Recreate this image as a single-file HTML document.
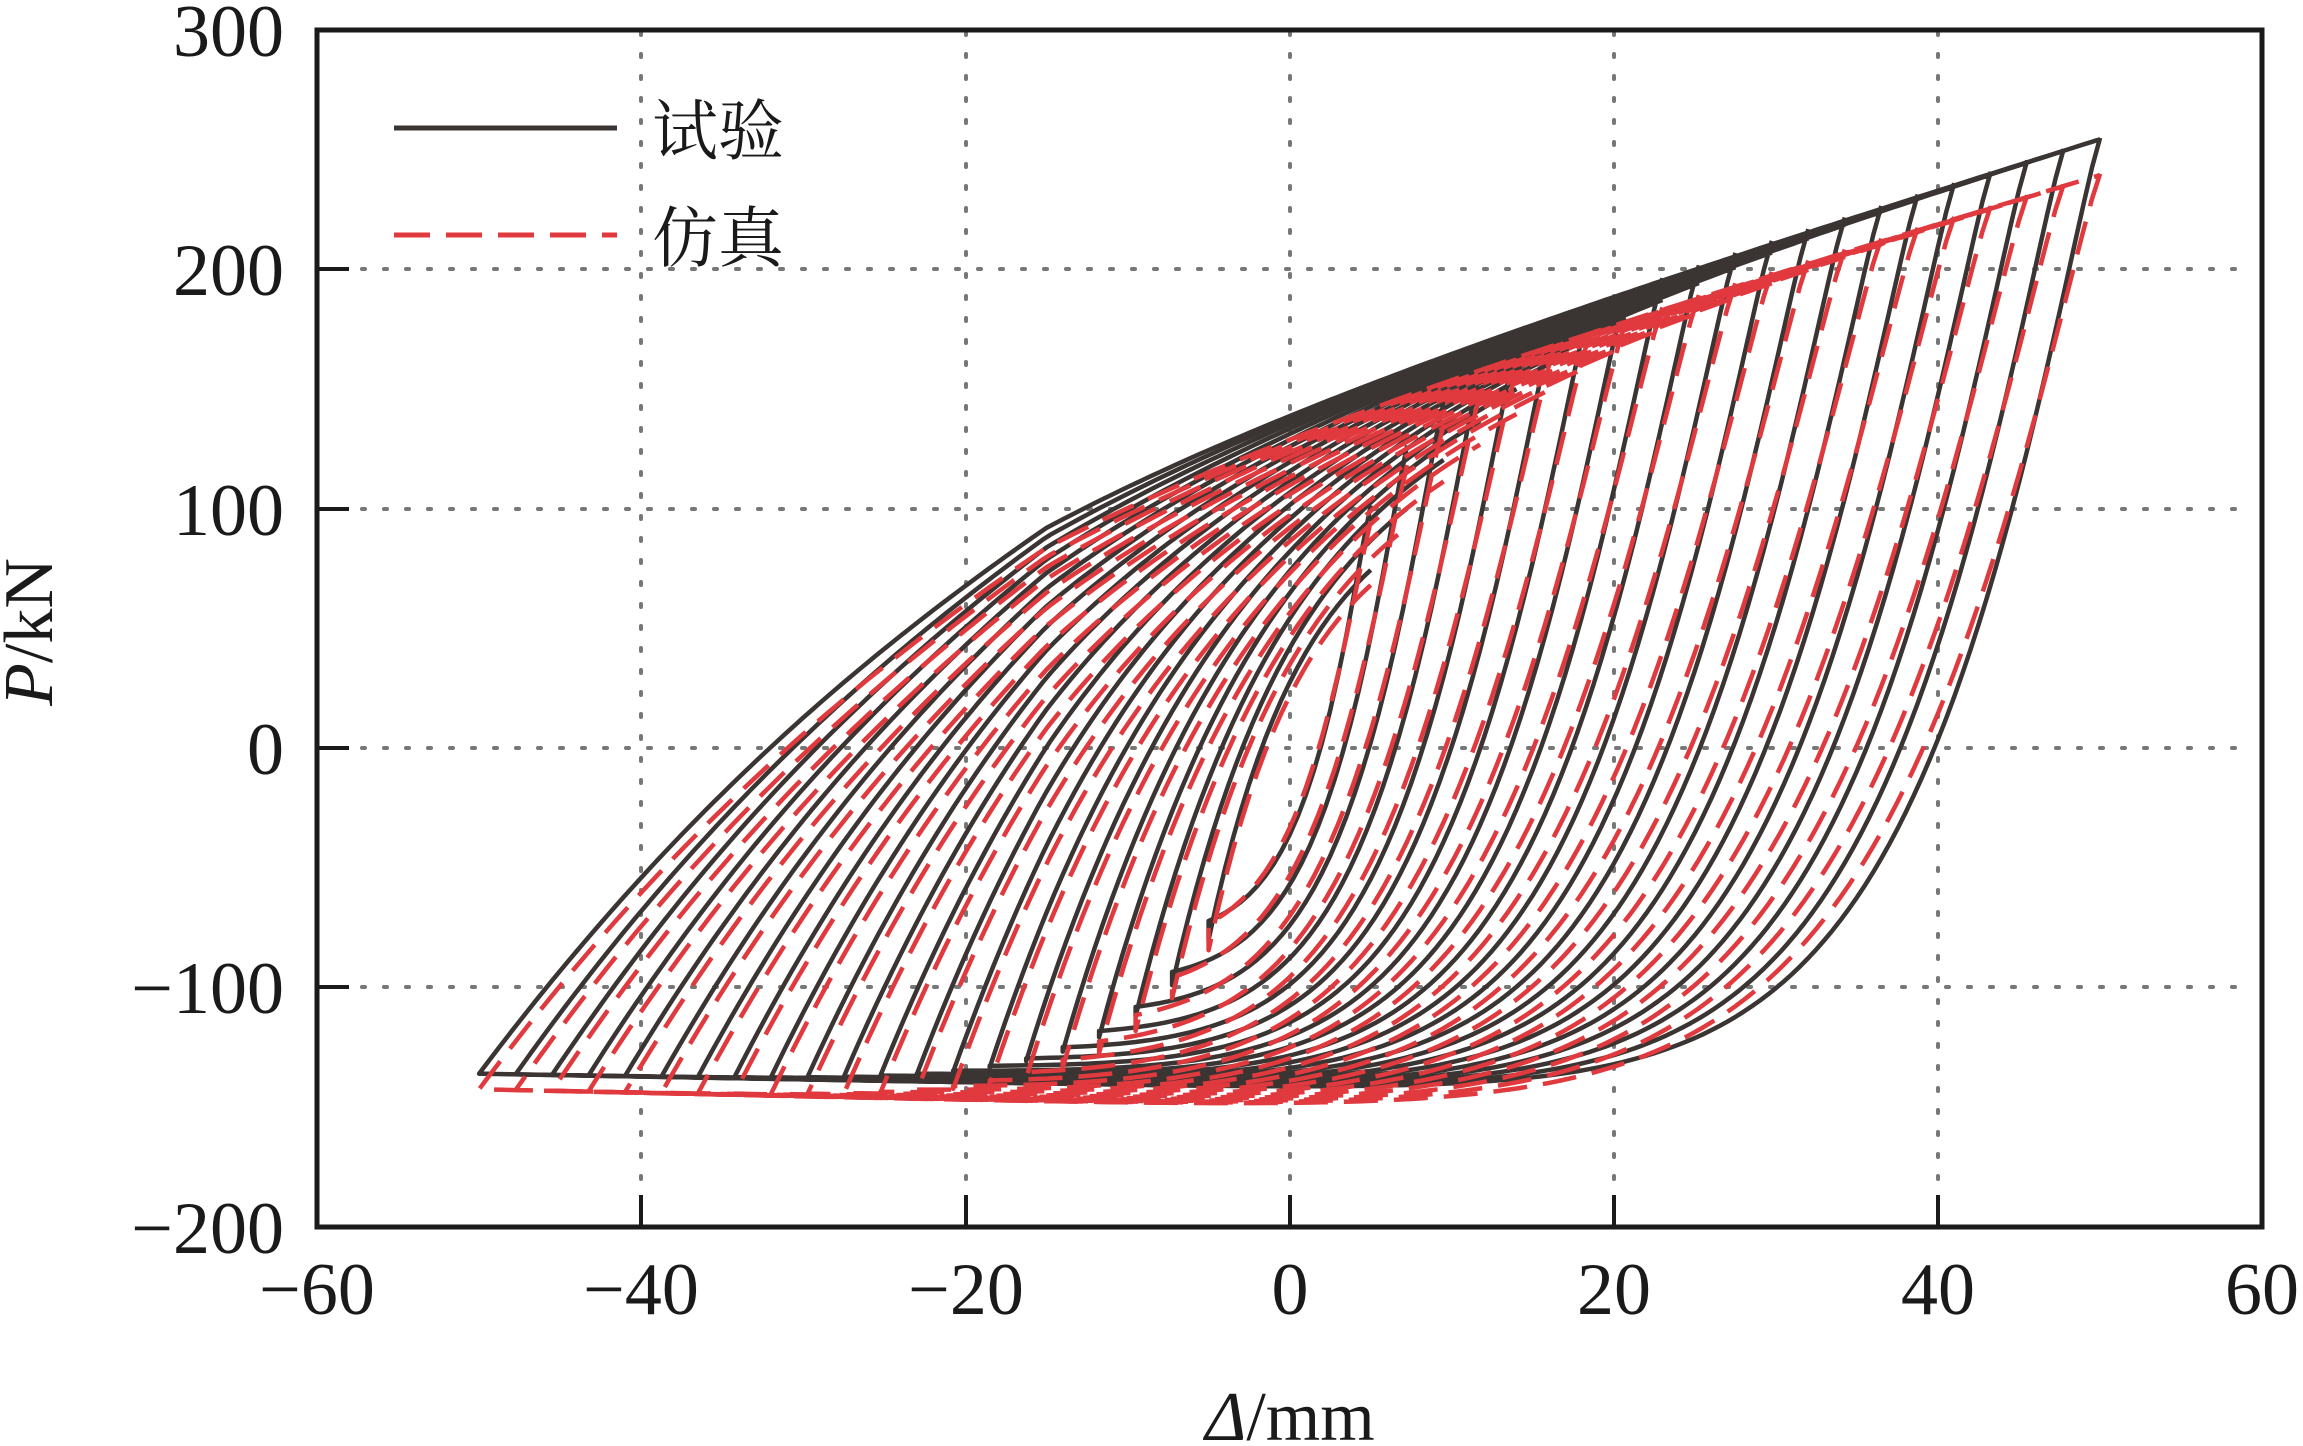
<!DOCTYPE html>
<html><head><meta charset="utf-8"><style>
html,body{margin:0;padding:0;background:#fff}
svg{display:block}
text{font-family:"Liberation Serif","Noto Serif CJK SC",serif;fill:#1a1a1a}
</style></head><body>
<svg id="s" width="2303" height="1446" viewBox="0 0 2303 1446" xmlns="http://www.w3.org/2000/svg">
<g stroke="#777" stroke-width="4" stroke-dasharray="3,19" stroke-linecap="round">
<line x1="641" y1="32" x2="641" y2="1200"/><line x1="966" y1="32" x2="966" y2="1200"/><line x1="1290" y1="32" x2="1290" y2="1200"/><line x1="1614" y1="32" x2="1614" y2="1200"/><line x1="1938" y1="32" x2="1938" y2="1200"/>
<line x1="340" y1="269" x2="2250" y2="269"/><line x1="340" y1="509" x2="2250" y2="509"/><line x1="340" y1="748" x2="2250" y2="748"/><line x1="340" y1="987" x2="2250" y2="987"/>
</g>
<g id="curves" fill="none" stroke-linejoin="round"></g>
<rect x="317" y="30" width="1945" height="1197" fill="none" stroke="#1a1a1a" stroke-width="5"/>
<g stroke="#1a1a1a" stroke-width="4">
<line x1="641" y1="1227" x2="641" y2="1195"/><line x1="966" y1="1227" x2="966" y2="1195"/><line x1="1290" y1="1227" x2="1290" y2="1195"/><line x1="1614" y1="1227" x2="1614" y2="1195"/><line x1="1938" y1="1227" x2="1938" y2="1195"/>
<line x1="317" y1="269" x2="349" y2="269"/><line x1="317" y1="509" x2="349" y2="509"/><line x1="317" y1="748" x2="349" y2="748"/><line x1="317" y1="987" x2="349" y2="987"/>
</g>
<g font-size="74" text-anchor="end">
<text x="284" y="56">300</text><text x="284" y="295">200</text><text x="284" y="535">100</text><text x="284" y="774">0</text><text x="284" y="1013">−100</text><text x="284" y="1253">−200</text>
</g>
<g font-size="74" text-anchor="middle">
<text x="317" y="1314">−60</text><text x="641" y="1314">−40</text><text x="966" y="1314">−20</text><text x="1290" y="1314">0</text><text x="1614" y="1314">20</text><text x="1938" y="1314">40</text><text x="2262" y="1314">60</text>
</g>
<text x="1290" y="1440" font-size="70" text-anchor="middle"><tspan font-style="italic">Δ</tspan>/mm</text>
<text transform="translate(52,632) rotate(-90)" font-size="70" text-anchor="middle"><tspan font-style="italic">P</tspan>/kN</text>
<line x1="394" y1="128" x2="617" y2="128" stroke="#3a3433" stroke-width="5"/>
<line x1="394" y1="235" x2="617" y2="235" stroke="#e0393e" stroke-width="5" stroke-dasharray="36,16"/>
<text x="652" y="154" font-size="66">试验</text>
<text x="652" y="261" font-size="66">仿真</text>
</svg>
<script>
(function(){
function X(x){return 317+(x+60)*16.21;}
function Y(p){return 30+(300-p)*2.394;}
var g=document.getElementById('curves');
function loops(red){
  var out='';
  for(var i=0;i<21;i++){
    var A=5+i*2.25;
    var s=1-Math.exp(-A/6);
    var U=function(x){return red?(140+2.0*x):(150+2.1*x);};
    var L=function(x){return red?(-150-0.15*x):(-142-0.12*x);};
    var Pmax=U(A)*(1-Math.exp(-A/5));
    var Pneg=L(-A)*s;
    var c=15*(1-Math.exp(-A/15))+1, c2=(red?11:9.5)*(1-Math.exp(-A/15))+1;
    var pts=[];
    for(var x=A;x>=-A;x-=0.5){
      var Lx=L(x)*s;
      var p=Lx+(Pmax-Lx)*Math.exp(-Math.pow((A-x)/c2,1.15));
      pts.push(X(x).toFixed(1)+','+Y(p).toFixed(1));
    }
    for(var x=-A;x<=A;x+=0.5){
      var Ux=U(x)*(1-Math.exp(-A/5));
      if(x<-15){Ux=Ux-(-15-x)*1.2*s;}
      var p=Ux-(Ux-Pneg)*Math.exp(-(x+A)/c);
      pts.push(X(x).toFixed(1)+','+Y(p).toFixed(1));
    }
    out+='<polyline points="'+pts.join(' ')+'"/>';
  }
  return out;
}
g.innerHTML='<g stroke="#3a3433" stroke-width="4.5">'+loops(false)+'</g><g stroke="#e0393e" stroke-width="4.5" stroke-dasharray="34,16">'+loops(true)+'</g>';
})();
</script>
</body></html>
